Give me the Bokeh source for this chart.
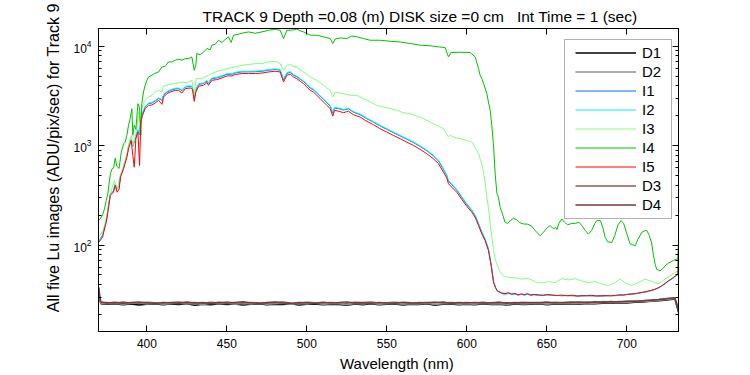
from bokeh.plotting import figure
from bokeh.models import FixedTicker, LinearAxis, LogAxis, Legend, LegendItem, BoxAnnotation, LogTickFormatter
from bokeh.embed import file_html
from bokeh.resources import INLINE

NB = "\u00a0"
TITLE = "TRACK 9 Depth =0.08 (m) DISK size =0 cm" + NB * 3 + "Int Time = 1 (sec)"
XLABEL = "Wavelength (nm)"
YLABEL = "All five Lu images (ADU/pix/sec) for Track 9"
XTICKS = [400, 450, 500, 550, 600, 650, 700]
YTICKS = [100, 1000, 10000]
NAMES = ["D1", "D2", "I1", "I2", "I3", "I4", "I5", "D3", "D4"]
COLORS = ["#000000", "#8f8f8f", "#0073e6", "#00f0ff", "#80ff80", "#00c000", "#ff0000", "#8b5a5a", "#733c3c"]

# wavelength grid shared by I1, I2, I5
WL_I = [370.0, 370.8, 372.3, 373.5, 374.6, 375.6, 377.1, 379.1, 380.2, 381.4,
        382.7, 383.5, 385.4, 387.5, 388.5, 390.2, 391.2, 392.1, 393.1, 394.4,
        395.4, 396.2, 397.3, 398.9, 401.0, 403.1, 405.2, 407.3, 409.4, 410.4,
        412.5, 414.6, 417.7, 419.8, 421.9, 424.0, 427.1, 428.5, 429.6, 430.6,
        432.3, 435.4, 437.5, 438.5, 440.6, 443.7, 446.9, 450.0, 453.1, 455.2,
        459.4, 463.5, 467.7, 471.9, 476.0, 480.2, 483.3, 485.4, 487.5, 489.6,
        491.6, 493.7, 495.8, 497.9, 500.0, 502.1, 504.1, 506.2, 508.3, 510.4,
        512.5, 514.6, 516.2, 517.3, 519.8, 522.9, 526.0, 529.1, 533.3, 537.5,
        541.6, 545.8, 550.0, 554.1, 558.3, 562.5, 566.6, 570.8, 575.0, 579.1,
        582.3, 585.4, 587.5, 588.5, 590.6, 593.7, 596.9, 600.0, 603.1, 605.2,
        607.3, 609.4, 611.4, 613.5, 615.2, 616.7, 618.0, 619.0, 621.9, 624.0,
        626, 628, 630, 632, 634, 636, 638, 640, 642, 645,
        648, 650, 653, 656, 659, 663, 666, 669, 672, 675,
        678, 681, 684, 687, 690, 693, 695, 698, 700, 703,
        706, 709.4, 711.5, 713.5, 715.6, 717.7, 719.8, 721.9, 724, 726,
        727.5, 729.1, 730.5, 731.9, 732.3]

I5 = [107, 111, 120, 145, 169, 214, 315, 340, 397, 340,
      368, 482, 585, 766, 931, 1127, 796, 607, 1172, 1368,
      631, 1726, 2014, 2355, 2541, 2560, 2685, 2858, 2600, 3083,
      3334, 3459, 3597, 3597, 3381, 3741, 3800, 3700, 2786, 3459,
      3954, 4046, 4303, 4046, 4540, 4610, 4800, 5023, 5023, 5188,
      5309, 5309, 5309, 5370, 5508, 5598, 5508, 4365, 5105, 5250,
      4909, 4721, 4436, 4207, 3890, 3597, 3459, 3206, 2972, 2748,
      2541, 2355, 1982, 2265, 2220, 2143, 2220, 2046, 1936, 1754,
      1623, 1479, 1368, 1267, 1175, 1084, 1005, 916, 828, 738,
      658, 541, 470, 413, 382, 340, 287, 245, 214, 190,
      157, 129, 111, 88, 62, 42, 37, 34.7, 32.9, 32.5,
      33.2, 32.1, 32.6, 31.6, 32.2, 31.8, 32.4, 31.4, 31.9, 31.5,
      31.2, 31.8, 31.5, 31.0, 31.4, 30.9, 31.3, 30.6, 31.0, 30.9,
      31.2, 30.7, 30.9, 31.0, 30.8, 31.2, 31.5, 31.4, 31.9, 32.1,
      32.6, 33.4, 33.8, 34.5, 35.1, 36.0, 37.3, 39.0, 41.2, 43.8,
      45.2, 47.2, 49.0, 51.0, 88]

I2 = [108, 115, 126, 150, 178, 225, 325, 355, 410, 370,
      400, 500, 610, 800, 980, 1180, 1000, 1100, 1250, 1450,
      1300, 1850, 2150, 2480, 2680, 2720, 2850, 3020, 2900, 3250,
      3500, 3640, 3780, 3800, 3620, 3950, 4000, 3920, 3000, 3700,
      4180, 4280, 4520, 4300, 4780, 4860, 5060, 5300, 5300, 5460,
      5600, 5600, 5620, 5680, 5820, 5920, 5830, 4650, 5400, 5560,
      5200, 5000, 4720, 4480, 4150, 3840, 3700, 3430, 3180, 2950,
      2730, 2530, 2150, 2430, 2390, 2310, 2380, 2200, 2080, 1890,
      1750, 1600, 1480, 1370, 1270, 1175, 1090, 995, 900, 800,
      712, 585, 505, 445, 410, 362, 305, 260, 226, 200,
      165, 136, 116, 92, 64, 43, 37.5, 34.5, 32.4, 31.9,
      32.5, 31.8, 32.2, 31.5, 31.9, 31.3, 31.8, 31.2, 31.6, 31.0,
      31.3, 31.5, 31.0, 31.2, 30.8, 31.1, 30.7, 30.9, 30.6, 31.0,
      30.7, 30.9, 30.5, 30.8, 31.1, 30.9, 31.2, 31.6, 31.7, 32.3,
      32.4, 33.2, 33.6, 34.2, 35.0, 35.8, 37.0, 38.6, 40.8, 43.2,
      44.8, 46.5, 48.5, 50.2, 80]

I1 = [107, 114, 125, 149, 176, 222, 322, 351, 405, 365,
      395, 494, 602, 790, 966, 1163, 985, 1085, 1232, 1430,
      1280, 1823, 2118, 2443, 2640, 2680, 2808, 2975, 2857, 3202,
      3448, 3586, 3724, 3743, 3566, 3891, 3940, 3862, 2955, 3645,
      4118, 4216, 4453, 4236, 4709, 4788, 4985, 5221, 5221, 5379,
      5517, 5517, 5536, 5596, 5734, 5832, 5743, 4581, 5320, 5477,
      5123, 4926, 4650, 4413, 4088, 3783, 3645, 3379, 3133, 2906,
      2689, 2492, 2118, 2394, 2354, 2276, 2344, 2167, 2049, 1862,
      1724, 1576, 1458, 1350, 1251, 1158, 1074, 980, 887, 788,
      701, 576, 497, 438, 404, 357, 300, 256, 223, 197,
      163, 134, 114, 91, 63, 42.5, 37.2, 34.6, 32.6, 32.2,
      32.8, 32.0, 32.4, 31.4, 32.0, 31.5, 32.1, 31.3, 31.7, 31.2,
      31.2, 31.6, 31.3, 31.1, 31.0, 31.0, 31.0, 30.8, 30.8, 30.9,
      30.9, 30.8, 30.7, 30.9, 31.0, 31.0, 31.3, 31.5, 31.8, 32.2,
      32.5, 33.3, 33.7, 34.3, 35.0, 35.9, 37.1, 38.8, 41.0, 43.5,
      45.0, 46.8, 48.7, 50.6, 84]

WL_I3 = [370.0, 370.8, 372.3, 373.5, 375.0, 376.0, 377.1, 378.1, 379.6, 380.6,
         381.9, 382.7, 383.8, 385.4, 387.5, 388.5, 390.2, 391.2, 392.3, 393.7,
         394.8, 395.8, 396.9, 398.9, 401.0, 403.1, 405.2, 407.3, 409.4, 410.4,
         413.5, 417.7, 421.9, 425.0, 428.1, 429.6, 430.8, 434.4, 438.5, 442.7,
         446.9, 451.0, 455.2, 459.4, 463.5, 467.7, 471.9, 476.0, 480.2, 483.3,
         485.4, 487.5, 489.6, 491.6, 493.7, 495.8, 497.9, 500.0, 502.1, 504.1,
         506.2, 508.3, 510.4, 512.5, 514.6, 516.2, 517.7, 520.3, 522.9, 527.1,
         531.2, 535.4, 539.6, 543.7, 547.9, 552.0, 556.2, 560.4, 564.6, 568.7,
         572.9, 577.1, 581.2, 585.4, 588.5, 589.6, 591.6, 595.8, 600.0, 603.1,
         606.2, 607.3, 608.3, 609.4, 610.4, 611.4, 612.5, 613.5, 614.6, 615.6,
         616.6, 617.7, 618.8, 619.8, 620.8, 622.9, 626.0, 630.2, 634.4, 638.5,
         642.7, 646.9, 651.0, 655.2, 659.4, 663.5, 667.7, 671.9, 676.0, 680.2,
         684.4, 688.5, 692.7, 695.8, 698.9, 703.1, 707.3, 711.4, 715.6, 719.8,
         723.9, 727.0, 730.2, 731.9, 732.3]
I3 = [124, 126, 140, 157, 206, 231, 315, 368, 446, 400,
      368, 470, 520, 631, 828, 1005, 1267, 1005, 1175, 1479,
      2180, 1726, 2443, 2858, 3083, 3206, 3459, 3597, 3459, 3980,
      4110, 4207, 4365, 4300, 4540, 3206, 4721, 4721, 5105, 5508,
      5727, 5957, 6184, 6430, 6531, 6683, 6683, 6950, 7063, 6683,
      5727, 6430, 6531, 6300, 6184, 5800, 5508, 5200, 4909, 4700,
      4540, 4300, 4046, 3800, 3597, 3083, 3459, 3380, 3334, 3206,
      3206, 2972, 2748, 2541, 2443, 2355, 2265, 2143, 2094, 1982,
      1866, 1726, 1600, 1479, 1219, 1280, 1219, 1175, 1127, 1084,
      896, 828, 738, 640, 540, 420, 300, 240, 160, 120,
      90, 72, 64, 59, 54, 49, 47, 47, 45.5, 46,
      42.8, 41.5, 42.8, 42, 46, 44.5, 46, 43.5, 42, 42.8,
      40.6, 39, 42, 45.5, 41.5, 39, 42, 45.5, 43, 40.6,
      45.5, 49, 53, 56, 106]

WL_I4 = [370.0, 370.8, 372.3, 373.5, 374.6, 375.6, 376.4, 377.2, 378.2, 379.3,
         380.2, 381.2, 382.6, 384.0, 385.4, 386.4, 387.5, 388.5, 389.5, 390.6,
         391.2, 392.1, 393.1, 394.4, 395.4, 396.2, 396.8, 397.9, 398.9, 400.0,
         401.0, 403.1, 405.2, 407.3, 409.4, 411.5, 413.5, 415.6, 417.7, 419.8,
         421.9, 424.0, 426.0, 428.1, 429.6, 430.6, 431.2, 433.3, 435.4, 437.5,
         439.6, 440.6, 442.7, 444.8, 446.9, 449.0, 451.0, 452.7, 454.2, 456.3,
         459.4, 463.5, 467.7, 471.9, 476.0, 480.2, 483.3, 485.4, 487.5, 489.6,
         491.6, 493.7, 495.8, 497.9, 500.0, 502.1, 506.2, 510.4, 514.6, 516.2,
         517.7, 520.8, 525.0, 528.1, 531.2, 535.4, 539.6, 545.8, 552.0, 558.3,
         564.6, 570.8, 577.1, 582.3, 586.4, 588.5, 590.0, 595.8, 602.1, 605.2,
         607.3, 608.3, 609.4, 610.4, 611.4, 612.5, 613.5, 614.6, 615.6, 616.6,
         617.7, 618.8, 619.8, 620.8, 621.9, 623.9, 625.5, 627.0, 629.1, 631.0,
         633.0, 635.4, 638.0, 640.5, 642.7, 645.8, 648.0, 650.0, 652.1, 654.0,
         655.5, 656.3, 657.5, 659.4, 661.0, 663.0, 665.6, 668.0, 670.0, 671.9,
         674.0, 676.0, 678.0, 680.0, 681.2, 683.5, 685.0, 686.4, 688.0, 690.6,
         692.5, 694.5, 696.4, 698.0, 700.0, 702.0, 704.0, 705.2, 707.0, 709.5,
         711.5, 712.5, 714.0, 715.5, 716.7, 717.7, 718.7, 719.8, 720.8, 722.5,
         724.0, 726.0, 727.0, 729.0, 731.0, 731.9, 732.3]
I4 = [178, 183, 201, 231, 281, 327, 420, 520, 585, 600,
      750, 620, 590, 860, 1040, 1085, 1270, 1600, 1860, 2350,
      1270, 1600, 1460, 2640, 2400, 1270, 2640, 3470, 4050, 4540,
      4900, 5100, 5350, 5500, 6180, 6300, 6950, 6950, 7230, 7400,
      7230, 7500, 7520, 7790, 5720, 6500, 8430, 8200, 8700, 9480,
      9200, 10230, 10470, 11480, 10900, 11700, 12420, 10900, 12900, 13100,
      13500, 13930, 13500, 13930, 14450, 14790, 14450, 11940, 14450, 14500,
      14600, 14830, 14300, 13930, 13400, 12910, 12910, 12420, 11940, 10640,
      11800, 12100, 11940, 12700, 12420, 11940, 11480, 11480, 11220, 11040,
      10640, 10230, 10100, 9840, 9700, 7800, 8630, 8700, 8630, 7800,
      5960, 5100, 4720, 4200, 3800, 3330, 2750, 2265, 1600, 1050,
      520, 330, 300, 238, 214, 169, 165, 175, 186, 180,
      168, 163, 162, 155, 140, 124, 135, 148, 157, 146,
      150, 143, 165, 183, 170, 160, 165, 165, 170, 157,
      140, 129, 140, 165, 176, 176, 150, 120, 108, 106,
      125, 160, 176, 165, 130, 103, 100, 98, 115, 135,
      140, 140, 125, 105, 78, 64, 57, 56, 55, 58,
      62, 66, 67, 70, 72, 72, 106]

# dark frames
WL_D = [370.0, 370.6, 371.2,
        375, 380, 385, 390, 395, 400, 405, 410, 415,
        420, 425, 430, 435, 440, 445, 450, 455, 460,
        465, 470, 475, 480, 485, 490, 495, 500, 505,
        510, 515, 520, 525, 530, 535, 540, 545, 550,
        555, 560, 565, 570, 575, 580, 585, 590, 595,
        600, 605, 610, 615, 620, 625, 630, 635, 640,
        645, 650, 655, 660, 665, 670, 675, 680, 685,
        690, 695, 700, 705, 710, 715, 720, 725, 730,
        732.3]
D1 = [33, 28, 25.6,
      25.3, 25.7, 25.1, 25.5, 24.9, 25.4, 25.6, 25.0, 25.5,
      25.2, 25.6, 24.8, 25.4, 25.1, 25.7, 25.2, 25.5, 24.9,
      25.3, 25.6, 25.0, 25.4, 25.2, 25.7, 24.9, 25.3, 25.5,
      25.0, 25.4, 25.2, 24.7, 25.5, 25.1, 25.6, 25.0, 25.3,
      25.5, 24.9, 25.4, 25.2, 25.6, 24.8, 25.3, 25.5, 25.1,
      25.4, 25.0, 25.6, 25.2, 25.3, 24.9, 25.5, 25.2, 25.4,
      25.6, 25.1, 25.5, 25.3, 25.7, 25.4, 25.8, 25.6, 26.0,
      25.9, 26.2, 26.1, 26.5, 26.7, 27.1, 27.5, 28.0, 28.6,
      21]
D2 = [34, 28.5, 25.9,
      25.6, 26.0, 25.4, 25.8, 26.1, 25.5, 25.9, 25.3, 25.7,
      26.0, 25.5, 25.8, 25.2, 25.9, 25.6, 26.0, 25.4, 25.8,
      25.5, 25.9, 25.3, 25.7, 26.0, 25.4, 25.8, 25.5, 25.9,
      25.3, 25.7, 25.6, 25.0, 25.8, 25.5, 25.9, 25.4, 25.6,
      25.8, 25.3, 25.7, 25.5, 25.9, 25.2, 25.6, 25.8, 25.4,
      25.7, 25.3, 25.9, 25.5, 25.6, 25.2, 25.8, 25.5, 25.7,
      25.9, 25.4, 25.8, 25.6, 26.0, 25.7, 26.1, 25.9, 26.3,
      26.2, 26.5, 26.4, 26.8, 27.0, 27.4, 27.8, 28.3, 28.9,
      22]
D3 = [36.0, 29.5, 26.5,
      26.4, 26.0, 26.7, 26.2, 26.1, 26.6, 26.3, 26.0, 26.5,
      26.7, 26.1, 26.4, 26.0, 26.6, 26.2, 26.8, 26.1, 26.3,
      26.5, 26.2, 26.0, 26.4, 26.7, 26.2, 26.0, 26.6, 26.3,
      26.1, 26.5, 26.2, 26.0, 26.6, 26.4, 26.7, 26.1, 26.3,
      26.6, 26.2, 26.0, 26.5, 26.3, 26.7, 26.1, 26.4, 26.2,
      26.5, 26.1, 26.6, 26.2, 26.4, 26.3, 26.1, 26.6, 26.3,
      26.5, 26.2, 26.6, 26.3, 26.7, 26.4, 26.8, 26.5, 27.0,
      26.8, 27.1, 27.0, 27.4, 27.5, 28.0, 28.4, 29.0, 29.4,
      23]
D4 = [37.5, 30.5, 26.8,
      26.1, 26.6, 26.0, 26.4, 26.8, 26.2, 25.9, 26.5, 26.3,
      26.0, 26.7, 26.2, 26.4, 25.8, 26.6, 26.1, 26.5, 26.9,
      26.2, 26.0, 26.4, 26.7, 26.1, 25.9, 26.5, 26.3, 26.0,
      26.6, 26.2, 26.4, 26.8, 26.1, 26.3, 25.9, 26.5, 26.2,
      26.0, 26.6, 26.3, 26.1, 26.5, 26.2, 26.7, 26.0, 26.4,
      26.2, 26.5, 26.1, 26.3, 26.6, 26.0, 26.4, 26.2, 26.5,
      26.3, 26.7, 26.2, 26.5, 26.4, 26.8, 26.3, 26.9, 26.6,
      27.0, 26.8, 27.3, 27.1, 27.6, 27.9, 28.3, 28.9, 29.6,
      22]

SERIES = {"D1": (WL_D, D1), "D2": (WL_D, D2), "I1": (WL_I, I1), "I2": (WL_I, I2),
          "I3": (WL_I3, I3), "I4": (WL_I4, I4), "I5": (WL_I, I5), "D3": (WL_D, D3), "D4": (WL_D, D4)}
for k, (xs, ys) in SERIES.items():
    assert len(xs) == len(ys), (k, len(xs), len(ys))

FONT = "Liberation Sans"
X0, X1 = 369.75, 732.3
Y0, Y1 = 13.5, 15070

p = figure(width=750, height=375, x_range=(X0, X1), y_range=(Y0, Y1), y_axis_type="log",
           output_backend="svg", toolbar_location=None,
           min_border_left=98, min_border_right=72, min_border_top=28, min_border_bottom=44,
           background_fill_color="white", border_fill_color="white")
p.outline_line_color = "black"
p.outline_line_width = 1
p.grid.visible = False

p.title.text = TITLE
p.title.align = "left"
p.title.offset = 104
p.title.standoff = 7
p.title.text_font = FONT
p.title.text_font_size = "15.5px"
p.title.text_font_style = "normal"
p.title.text_color = "black"

def style_axis(ax):
    ax.axis_line_color = "black"
    ax.major_tick_line_color = "black"
    ax.minor_tick_line_color = "black"
    ax.major_tick_in = 6
    ax.major_tick_out = 0
    ax.minor_tick_in = 3
    ax.minor_tick_out = 0
    ax.major_label_text_font = FONT
    ax.major_label_text_font_size = "12px"
    ax.major_label_text_color = "black"
    ax.axis_label_text_font = FONT
    ax.axis_label_text_font_style = "normal"
    ax.axis_label_text_color = "black"

YMINOR = [m * d for d in (10, 100, 1000) for m in range(2, 10)]

xb = p.xaxis[0]
style_axis(xb)
xb.ticker = FixedTicker(ticks=XTICKS)
xb.minor_tick_line_color = None
xb.major_label_standoff = 7
xb.axis_label = NB * 4 + XLABEL
xb.axis_label_text_font_size = "15px"
xb.axis_label_standoff = 4

yl = p.yaxis[0]
style_axis(yl)
yl.ticker = FixedTicker(ticks=YTICKS, minor_ticks=YMINOR)
yl.formatter = LogTickFormatter()
yl.major_label_standoff = 7
yl.axis_label = NB * 10 + YLABEL
yl.axis_label_text_font_size = "16px"
yl.axis_label_standoff = 8

xt = LinearAxis(ticker=FixedTicker(ticks=XTICKS), major_label_overrides={t: "" for t in XTICKS})
style_axis(xt)
xt.minor_tick_line_color = None
xt.major_label_text_font_size = "0px"
xt.major_label_standoff = 0
p.add_layout(xt, "above")

yr = LogAxis(ticker=FixedTicker(ticks=YTICKS, minor_ticks=YMINOR), major_label_overrides={t: "" for t in YTICKS})
style_axis(yr)
yr.major_label_text_font_size = "0px"
yr.major_label_standoff = 0
p.add_layout(yr, "right")

renderers = {}
for name, color in zip(NAMES, COLORS):
    xs, ys = SERIES[name]
    lw = 1.4 if name.startswith("D") else 1.0
    renderers[name] = p.line(xs, ys, line_color=color, line_width=lw)

# legend frame
box = BoxAnnotation(left=466, right=573, bottom=113, top=292,
                    left_units="screen", right_units="screen", bottom_units="screen", top_units="screen",
                    fill_color="white", fill_alpha=1.0, line_color="black", line_width=1)
p.add_layout(box)

legend = Legend(items=[LegendItem(label=n, renderers=[renderers[n]]) for n in NAMES],
                location=(474, 114), padding=3, spacing=0, margin=0,
                glyph_width=61, glyph_height=19, label_height=19, label_standoff=6,
                label_text_font=FONT, label_text_font_size="15px", label_text_color="black",
                border_line_alpha=0, background_fill_alpha=0)
p.add_layout(legend)

open("out.html", "w").write(file_html(p, INLINE))
